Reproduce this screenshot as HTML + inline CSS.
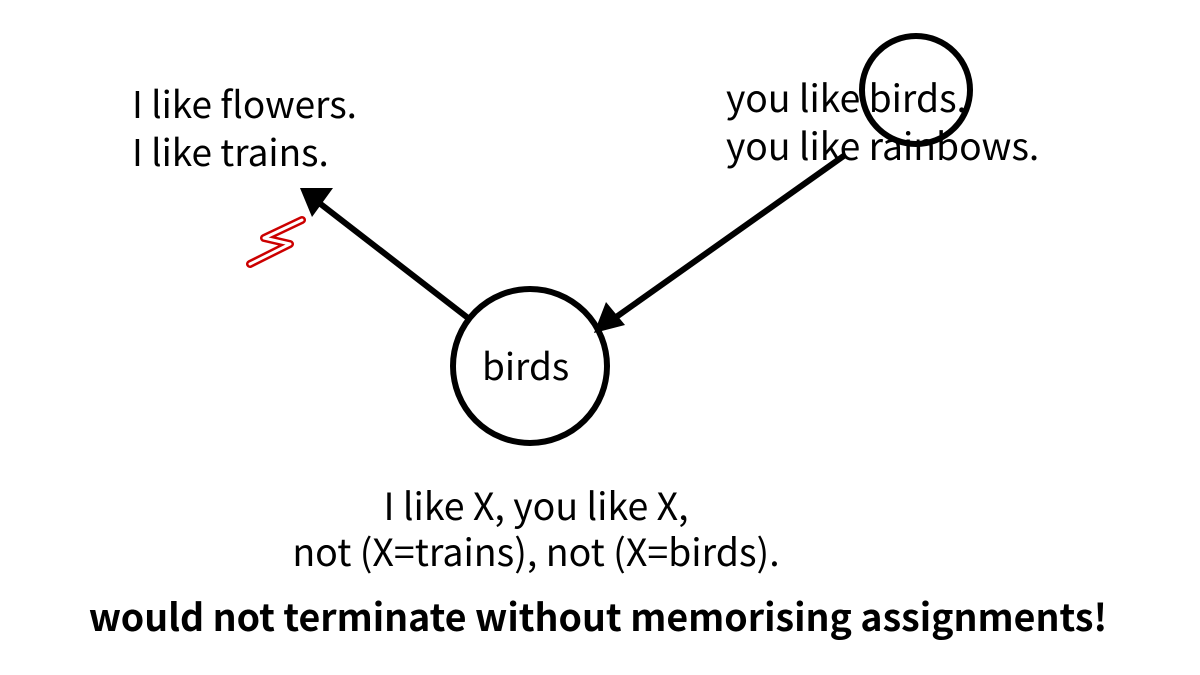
<!DOCTYPE html>
<html><head><style>
body{margin:0;background:#fff;}
.t{position:absolute;font-family:"Noto Sans CJK JP","Liberation Sans",sans-serif;color:#000;white-space:nowrap;}
</style></head><body>
<div style="position:relative;width:1200px;height:675px;overflow:hidden">
<svg width="1200" height="675" style="position:absolute;left:0;top:0">
<circle cx="530" cy="366" r="77" fill="none" stroke="#000" stroke-width="6"/>
<circle cx="916" cy="90" r="54" fill="none" stroke="#000" stroke-width="6"/>
<line x1="468" y1="318" x2="318" y2="202" stroke="#000" stroke-width="6"/>
<polygon points="300,188 333,188 312,217" fill="#000"/>
<line x1="845" y1="155" x2="612" y2="320" stroke="#000" stroke-width="6"/>
<polygon points="594,333 606,302 625,325" fill="#000"/>
<path d="M250,264 L290,244 L264,238 L302,220" fill="none" stroke="#c00" stroke-width="8" stroke-linecap="round" stroke-linejoin="round"/>
<path d="M250,264 L290,244 L264,238 L302,220" fill="none" stroke="#fff" stroke-width="3" stroke-linecap="round" stroke-linejoin="round"/>
</svg>
<div class="t" style="left:132px;top:78px;font-size:37px;line-height:48px">I like flowers.<br>I like trains.</div>
<div class="t" style="left:726px;top:72px;font-size:37.3px;line-height:48px">you like birds.<br>you like rainbows.</div>
<div class="t" style="left:482px;top:337px;font-size:37px">birds</div>
<div class="t" style="left:286px;top:481px;font-size:37.5px;line-height:46px;text-align:center;width:500px">I like X, you like X,<br>not (X=trains), not (X=birds).</div>
<div class="t" style="left:0;width:1196px;text-align:center;top:587px;font-size:37.5px;font-weight:bold">would not terminate without memorising assignments!</div>
</div>
</body></html>
